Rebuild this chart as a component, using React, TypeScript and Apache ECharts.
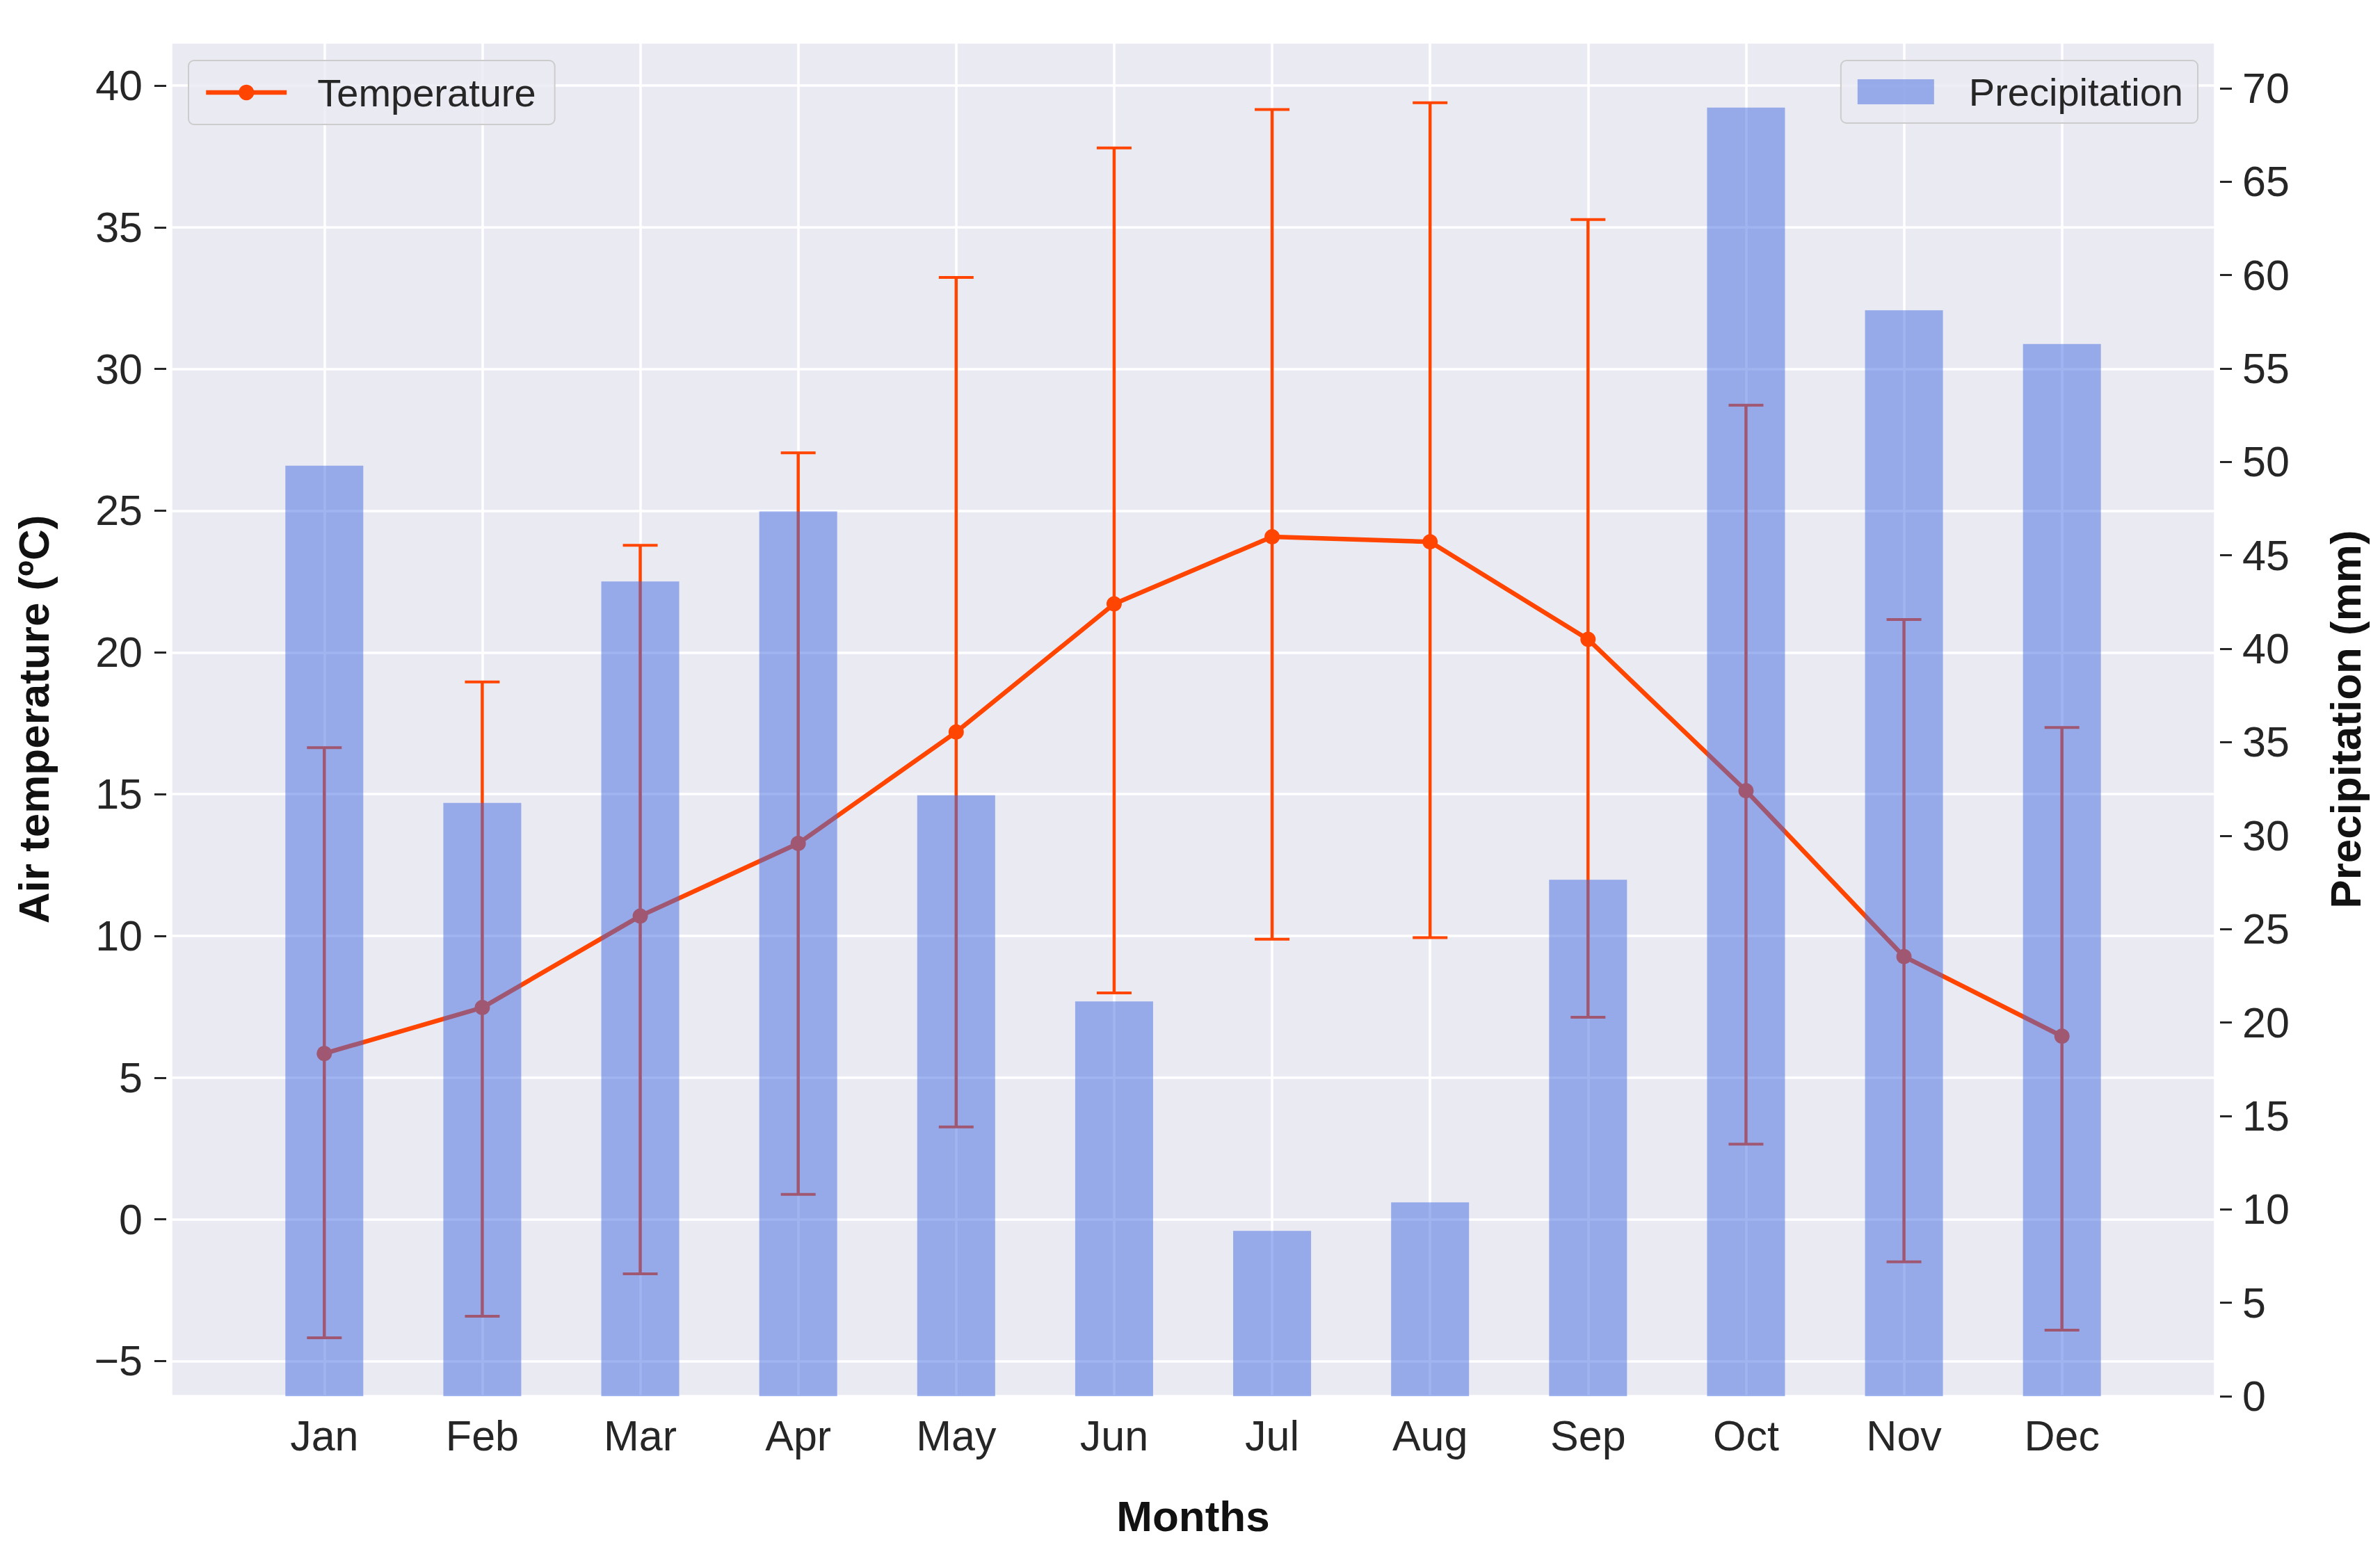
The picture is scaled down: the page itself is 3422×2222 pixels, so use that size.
import React, { useEffect, useRef } from "react";
import * as echarts from "echarts";

// ---- Data ----
const months = ["Jan", "Feb", "Mar", "Apr", "May", "Jun", "Jul", "Aug", "Sep", "Oct", "Nov", "Dec"];
const tempMean = [5.85, 7.47, 10.7, 13.26, 17.19, 21.71, 24.08, 23.9, 20.46, 15.12, 9.27, 6.46];
const tempLow = [-4.18, -3.42, -1.92, 0.88, 3.26, 7.99, 9.88, 9.94, 7.13, 2.65, -1.5, -3.91];
const tempHigh = [16.64, 18.96, 23.78, 27.04, 33.23, 37.8, 39.15, 39.39, 35.27, 28.72, 21.16, 17.35];
const precipitation = [49.8, 31.75, 43.6, 47.35, 32.16, 21.13, 8.85, 10.37, 27.64, 68.96, 58.11, 56.31];

const xRange = [-0.97, 11.97];
const tempRange = [-6.24, 41.52];
const precipRange = [0, 72.45];
const tempTickStep = 5;
const precipTickStep = 5;

const FONT = "Liberation Sans, Arial, Helvetica, sans-serif";
const TEXT = "#262626";
const ORANGE = "#ff4500";
const BAR = "rgba(65,105,225,0.5)";

export default function App() {
  const ref = useRef<HTMLDivElement>(null);

  useEffect(() => {
    document.body.style.margin = "0";
    document.body.style.overflow = "hidden";
    if (!ref.current) return;
    const chart = echarts.init(ref.current, null, { renderer: "svg" });

    const lineData = tempMean.map((v, i) => [i, v]);
    const errData = tempMean.map((_, i) => [i, tempLow[i], tempHigh[i]]);
    const barData = precipitation.map((v, i) => [i, v]);

    const option: any = {
      animation: false,
      backgroundColor: "#ffffff",
      textStyle: { fontFamily: FONT },
      grid: {
        left: 246,
        right: 237,
        top: 61,
        bottom: 214,
        show: true,
        backgroundColor: "#eaeaf2",
        borderWidth: 0,
        containLabel: false,
        outerBoundsMode: "none",
      },
      legend: [
        {
          data: ["Temperature"],
          left: 271,
          top: 87,
          orient: "horizontal",
          itemWidth: 116,
          itemHeight: 28,
          padding: [18, 27, 18, 22],
          backgroundColor: "rgba(234,234,242,0.8)",
          borderColor: "#cccccc",
          borderWidth: 2,
          borderRadius: 8,
          lineStyle: { width: 6.5 },
          textStyle: { fontSize: 56, color: TEXT, fontFamily: FONT, padding: [0, 0, 0, 39] },
        },
        {
          data: [{ name: "Precipitation", icon: "rect" }],
          right: 262,
          top: 87,
          orient: "horizontal",
          itemWidth: 110,
          itemHeight: 36,
          padding: [17, 21, 17, 24],
          backgroundColor: "rgba(234,234,242,0.8)",
          borderColor: "#cccccc",
          borderWidth: 2,
          borderRadius: 8,
          textStyle: { fontSize: 56, color: TEXT, fontFamily: FONT, padding: [0, 0, 0, 45] },
        },
      ],
      xAxis: {
        type: "value",
        min: xRange[0],
        max: xRange[1],
        splitNumber: 13,
        minInterval: 1,
        maxInterval: 1,
        axisLine: { show: false, onZero: false },
        axisTick: { show: false },
        axisLabel: {
          fontSize: 61,
          color: TEXT,
          fontFamily: FONT,
          margin: 26,
          showMinLabel: false,
          showMaxLabel: false,
          formatter: (v: number) => {
            const r = Math.round(v);
            return Math.abs(v - r) < 1e-6 && r >= 0 && r < months.length ? months[r] : "";
          },
        },
        splitLine: { show: true, lineStyle: { color: "#ffffff", width: 3.5 } },
        name: "Months",
        nameLocation: "middle",
        nameGap: 141,
        nameTextStyle: { fontSize: 62, fontWeight: "bold", color: "#111111", fontFamily: FONT },
      },
      yAxis: [
        {
          type: "value",
          position: "left",
          min: tempRange[0],
          max: tempRange[1],
          splitNumber: 9,
          minInterval: tempTickStep,
          maxInterval: tempTickStep,
          offset: 7,
          axisLine: { show: false, onZero: false },
          axisTick: { show: true, length: 17, lineStyle: { color: TEXT, width: 3 } },
          axisLabel: {
            fontSize: 61,
            color: TEXT,
            fontFamily: FONT,
            margin: 34,
            showMinLabel: false,
            showMaxLabel: false,
            formatter: (v: number) => (v < 0 ? "\u2212" + Math.abs(v) : String(v)),
          },
          splitLine: { show: true, lineStyle: { color: "#ffffff", width: 3.5 } },
          name: "Air temperature (ºC)",
          nameLocation: "middle",
          nameRotate: 90,
          nameGap: 160,
          nameTextStyle: { fontSize: 62, fontWeight: "bold", color: "#111111", fontFamily: FONT },
        },
        {
          type: "value",
          position: "right",
          min: precipRange[0],
          max: precipRange[1],
          interval: precipTickStep,
          offset: 7,
          axisLine: { show: false, onZero: false },
          axisTick: { show: true, length: 17, lineStyle: { color: TEXT, width: 3 } },
          axisLabel: {
            fontSize: 61,
            color: TEXT,
            fontFamily: FONT,
            margin: 32,
            showMaxLabel: false,
          },
          splitLine: { show: false },
          name: "Precipitation (mm)",
          nameLocation: "middle",
          nameRotate: 90,
          nameGap: 149,
          nameTextStyle: { fontSize: 62, fontWeight: "bold", color: "#111111", fontFamily: FONT },
        },
      ],
      series: [
        {
          name: "Temperature",
          type: "line",
          xAxisIndex: 0,
          yAxisIndex: 0,
          data: lineData,
          z: 2,
          symbol: "circle",
          symbolSize: 22,
          showSymbol: true,
          lineStyle: { color: ORANGE, width: 6.5 },
          itemStyle: { color: ORANGE, borderWidth: 0 },
        },
        {
          name: "Temperature range",
          type: "custom",
          xAxisIndex: 0,
          yAxisIndex: 0,
          data: errData,
          z: 2,
          encode: { x: 0, y: [1, 2] },
          renderItem: (params: any, api: any) => {
            const x = api.value(0);
            const lo = api.coord([x, api.value(1)]);
            const hi = api.coord([x, api.value(2)]);
            const cap = 25;
            const style = { stroke: ORANGE, lineWidth: 4.5 };
            return {
              type: "group",
              children: [
                { type: "line", shape: { x1: hi[0], y1: hi[1], x2: lo[0], y2: lo[1] }, style },
                { type: "line", shape: { x1: hi[0] - cap, y1: hi[1], x2: hi[0] + cap, y2: hi[1] }, style: { stroke: ORANGE, lineWidth: 4 } },
                { type: "line", shape: { x1: lo[0] - cap, y1: lo[1], x2: lo[0] + cap, y2: lo[1] }, style: { stroke: ORANGE, lineWidth: 4 } },
              ],
            };
          },
        },
        {
          name: "Precipitation",
          type: "bar",
          xAxisIndex: 0,
          yAxisIndex: 1,
          data: barData,
          barWidth: 112,
          z: 5,
          itemStyle: { color: BAR },
        },
      ],
    };

    chart.setOption(option);
    return () => chart.dispose();
  }, []);

  return <div ref={ref} style={{ width: 3422, height: 2222 }} />;
}
